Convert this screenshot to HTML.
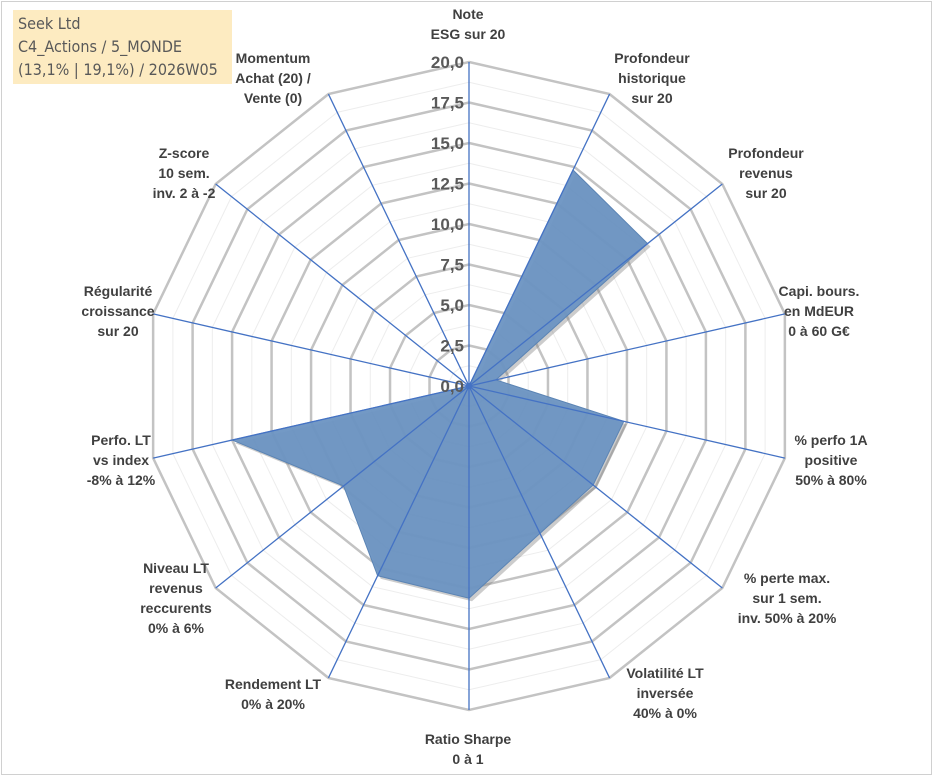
<!DOCTYPE html>
<html><head><meta charset="utf-8">
<style>
body{margin:0;background:#fff;}
#wrap{position:relative;width:933px;height:776px;overflow:hidden;font-family:"Liberation Sans",sans-serif;}
#frame{position:absolute;left:1px;top:1px;width:929px;height:772px;border:1px solid #d0d0d0;}
#title{position:absolute;left:13px;top:10px;width:219px;height:74px;background:#fdebc1;color:#595959;font-size:16px;line-height:23px;padding:2px 0 0 5px;box-sizing:border-box;font-family:"DejaVu Sans Condensed","Liberation Sans",sans-serif;}
svg text{font-family:"Liberation Sans",sans-serif;}
</style></head><body>
<div id="wrap">
<div id="frame"></div>
<div id="title">Seek Ltd<br>C4_Actions / 5_MONDE<br>(13,1% | 19,1%) / 2026W05</div>
<svg id="chart" width="933" height="776" style="position:absolute;left:0;top:0"></svg>
</div>
<script>
const categories=[
["Note","ESG sur 20"],
["Profondeur","historique","sur 20"],
["Profondeur","revenus","sur 20"],
["Capi. bours.","en MdEUR","0 à 60 G€"],
["% perfo 1A","positive","50% à 80%"],
["% perte max.","sur 1 sem.","inv. 50% à 20%"],
["Volatilité LT","inversée","40% à 0%"],
["Ratio Sharpe","0 à 1"],
["Rendement LT","0% à 20%"],
["Niveau LT","revenus","reccurents","0% à 6%"],
["Perfo. LT","vs index","-8% à 12%"],
["Régularité","croissance","sur 20"],
["Z-score","10 sem.","inv. 2 à -2"],
["Momentum","Achat (20) /","Vente (0)"]
];
const values=[0,14.8,14.1,1.7,9.8,9.8,10.1,13.1,13.0,9.9,15.0,0,0,0];
const ticks=["0,0","2,5","5,0","7,5","10,0","12,5","15,0","17,5","20,0"];
const labelPos=[[468,19],[652,63],[766,158],[819,296],[831,445],[787,583],[665,678],[468,744],[273,689],[176,573],[121,445],[118,296],[184,158],[273,63]];
const cx=469,cy=386,R=324,maxV=20,N=categories.length;
const NS="http://www.w3.org/2000/svg";
const svg=document.getElementById('chart');
function ang(i){return i*2*Math.PI/N;}
function pt(i,v){const r=v/maxV*R;return [cx+r*Math.sin(ang(i)),cy-r*Math.cos(ang(i))];}
function mk(t,a,p){const e=document.createElementNS(NS,t);for(const k in a)e.setAttribute(k,a[k]);(p||svg).appendChild(e);return e;}
for(let k=1;k<=16;k++){
  const v=k*1.25;const major=k%2===0;
  const pts=[];for(let i=0;i<N;i++)pts.push(pt(i,v).join(','));
  const g=mk('polygon',{points:pts.join(' '),fill:'none',stroke:major?'#c3c3c3':'#ededed','stroke-width':major?2.5:1});
  
  
}
const sp=values.map((v,i)=>pt(i,v));
const sh=mk('polygon',{points:sp.map(p=>(p[0]+3)+','+(p[1]+3)).join(' '),fill:'#7f7f7f',opacity:0.4});


const area=mk('polygon',{points:sp.map(p=>p.join(',')).join(' '),fill:'#6b94c2','fill-opacity':0.95,stroke:'#5b84b4','stroke-width':1});


for(let i=0;i<N;i++){
  const p=pt(i,maxV);
  const l=mk('line',{x1:cx,y1:cy,x2:p[0],y2:p[1],stroke:'#4472c4','stroke-width':1.3});
  
  
}
const dot=mk('circle',{cx:cx,cy:cy,r:3,fill:'#4472c4'});


ticks.forEach((t,k)=>{
  const y=cy-(k*2.5)/maxV*R;
  const tx=mk('text',{x:cx-5,y:y+6,'text-anchor':'end','font-size':17,'font-weight':'bold',fill:'#595959'});
  tx.textContent=t;
  
  
});
categories.forEach((lines,i)=>{
  const [x,y]=labelPos[i];
  const tx=mk('text',{x:x,y:y,'text-anchor':'middle','font-size':14,'font-weight':'bold',fill:'#404040'});
  
  
  lines.forEach((s,j)=>{const ts=mk('tspan',{x:x,dy:j===0?0:20},tx);ts.textContent=s;});
});
</script>
</body></html>
